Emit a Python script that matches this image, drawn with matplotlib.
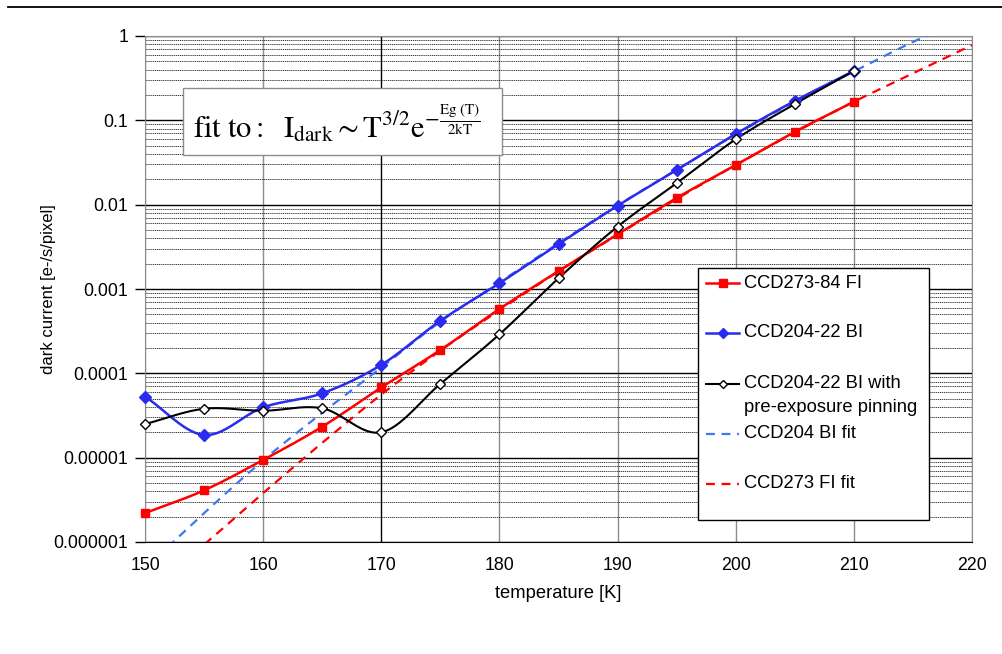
import numpy as np
import matplotlib
matplotlib.use('Agg')
import matplotlib.pyplot as plt
from matplotlib.lines import Line2D
from matplotlib.patches import Rectangle
from matplotlib.ticker import FixedLocator, FixedFormatter, LogLocator, NullFormatter

plt.rcParams['font.family'] = ['Liberation Sans', 'DejaVu Sans']
plt.rcParams['mathtext.fontset'] = 'stix'

# measured dark current vs temperature
temp = [150, 155, 160, 165, 170, 175, 180, 185, 190, 195, 200, 205, 210]
ccd273_fi = [2.2e-6, 4.1e-6, 9.4e-6, 2.33e-5, 6.8e-5, 1.89e-4, 5.8e-4, 1.63e-3, 4.45e-3, 0.012, 0.0295, 0.073, 0.166]
ccd204_bi = [5.3e-5, 1.86e-5, 3.95e-5, 5.8e-5, 1.26e-4, 4.2e-4, 1.17e-3, 3.41e-3, 9.7e-3, 0.0258, 0.069, 0.17, 0.385]
ccd204_pin = [2.5e-5, 3.8e-5, 3.6e-5, 3.85e-5, 2.0e-5, 7.5e-5, 2.9e-4, 1.34e-3, 5.5e-3, 0.018, 0.0596, 0.156, 0.385]

# fit curves
fit_temp = [150, 155, 160, 165, 170, 175, 180, 185, 190, 195, 200, 205, 210, 215, 220]
ccd204_fit = [4.9e-7, 2.2e-6, 9.3e-6, 3.4e-5, 1.17e-4, 4.1e-4, 1.2e-3, 3.5e-3, 9.8e-3, 0.026, 0.068, 0.166, 0.38, 0.85, 1.74]
ccd273_fit = [2.4e-7, 9.3e-7, 3.8e-6, 1.5e-5, 5.6e-5, 1.86e-4, 5.6e-4, 1.62e-3, 4.4e-3, 0.0117, 0.0295, 0.072, 0.166, 0.36, 0.78]

x_ticks = [150, 160, 170, 180, 190, 200, 210, 220]
y_ticks = [1e-6, 1e-5, 1e-4, 1e-3, 1e-2, 1e-1, 1]
y_tick_labels = ['0.000001', '0.00001', '0.0001', '0.001', '0.01', '0.1', '1']


def smooth(xs, ys, n=24):
    # Catmull-Rom curve through the points (x, log y), like Excel's smoothed line
    x = np.asarray(xs, float)
    y = np.log10(ys)
    px = np.r_[2 * x[0] - x[1], x, 2 * x[-1] - x[-2]]
    py = np.r_[2 * y[0] - y[1], y, 2 * y[-1] - y[-2]]
    t = np.linspace(0, 1, n)
    out_x, out_y = [], []
    for i in range(1, len(px) - 2):
        for p, out in ((px, out_x), (py, out_y)):
            p0, p1, p2, p3 = p[i - 1], p[i], p[i + 1], p[i + 2]
            out.extend(0.5 * (2 * p1 + (-p0 + p2) * t + (2 * p0 - 5 * p1 + 4 * p2 - p3) * t ** 2
                              + (-p0 + 3 * p1 - 3 * p2 + p3) * t ** 3))
    return np.array(out_x), 10 ** np.array(out_y)


W, H = 1002, 654
fig = plt.figure(figsize=(W / 100, H / 100), dpi=100)
ax = fig.add_axes([145 / W, 1 - 542 / H, 827 / W, 506 / H])
ax.set_yscale('log')
ax.set_xlim(150, 220)
ax.set_ylim(1e-6, 1)

# grid
for xv in x_ticks:
    ax.axvline(xv, color='black' if xv == 170 else '#8c8c8c', lw=1.0, zorder=1)
for yv in y_ticks:
    ax.axhline(yv, color='black', lw=1.0, zorder=1)
ax.yaxis.set_minor_locator(LogLocator(base=10, subs=np.arange(2, 10)))
ax.yaxis.set_minor_formatter(NullFormatter())
ax.grid(True, which='minor', axis='y', color='black', lw=0.55, linestyle=(0, (1.5, 1)), zorder=1)
ax.tick_params(axis='y', which='minor', length=0)

red = '#ff0000'
blue = '#2b2bf0'
light_blue = '#3c78f0'

x, y = smooth(fit_temp, ccd204_fit)
ax.plot(x, y, color=light_blue, lw=1.6, ls=(0, (4, 3)), zorder=3)
x, y = smooth(fit_temp, ccd273_fit)
ax.plot(x, y, color=red, lw=1.6, ls=(0, (4, 3)), zorder=3)

x, y = smooth(temp, ccd273_fi)
ax.plot(x, y, color=red, lw=1.8, zorder=4)
ax.plot(temp, ccd273_fi, ls='none', marker='s', ms=6, color=red, zorder=5, clip_on=False)

x, y = smooth(temp, ccd204_bi)
ax.plot(x, y, color=blue, lw=1.8, zorder=4)
ax.plot(temp, ccd204_bi, ls='none', marker='D', ms=6.5, color=blue, zorder=5, clip_on=False)

x, y = smooth(temp, ccd204_pin)
ax.plot(x, y, color='black', lw=1.5, zorder=4)
ax.plot(temp, ccd204_pin, ls='none', marker='D', ms=4.8, mfc='white', mec='black', mew=1.0,
        zorder=6, clip_on=False)

# axes styling
ax.xaxis.set_major_locator(FixedLocator(x_ticks))
ax.yaxis.set_major_locator(FixedLocator(y_ticks))
ax.yaxis.set_major_formatter(FixedFormatter(y_tick_labels))
ax.tick_params(axis='x', length=0, pad=11, labelsize=12.8)
ax.tick_params(axis='y', which='major', length=7, width=1, direction='out', pad=5, labelsize=12.8)
for side in ('left', 'top', 'right'):
    ax.spines[side].set_color('#8c8c8c')
ax.spines['bottom'].set_color('black')
ax.set_xlabel('temperature [K]', fontsize=13.2, labelpad=8)
ax.set_ylabel('dark current [e-/s/pixel]', fontsize=12)
ax.yaxis.set_label_coords(-0.108, 0.5)

# fit formula box
fig.add_artist(Rectangle((183 / W, 1 - 155 / H), (502 - 183) / W, (155 - 88) / H,
                         transform=fig.transFigure, facecolor='white', edgecolor='#8c8c8c', lw=1.0, zorder=7))
fig.text(193 / W, 1 - 124 / H,
         r'$\mathrm{fit\ to{:}\ \ I_{dark}} \sim \mathrm{T}^{3/2}\mathrm{e}^{-\frac{\mathrm{Eg\ (T)}}{\mathrm{2kT}}}$',
         fontsize=22, va='center', ha='left', zorder=8)

# legend drawn by hand to follow the original spacing
fig.add_artist(Rectangle((698 / W, 1 - 520 / H), (929 - 698) / W, (520 - 268) / H,
                         transform=fig.transFigure, facecolor='white', edgecolor='black', lw=1.0, zorder=7))
entries = [
    (283, dict(color=red, lw=1.8, marker='s', ms=5.5), ['CCD273-84 FI']),
    (333, dict(color=blue, lw=1.8, marker='D', ms=5.5), ['CCD204-22 BI']),
    (384, dict(color='black', lw=1.5, marker='D', ms=4, mfc='white', mec='black'),
     ['CCD204-22 BI with', 'pre-exposure pinning']),
    (434, dict(color=light_blue, lw=1.6, ls=(0, (4, 3))), ['CCD204 BI fit']),
    (484, dict(color=red, lw=1.6, ls=(0, (4, 3))), ['CCD273 FI fit']),
]
for yp, style, lines in entries:
    ln = Line2D([706 / W, 739 / W], [1 - yp / H, 1 - yp / H], transform=fig.transFigure,
                markevery=[1] if 'marker' in style else None, zorder=8, **style)
    if 'marker' in style:
        ln.set_data([706 / W, 722.5 / W, 739 / W], [1 - yp / H] * 3)
    fig.add_artist(ln)
    for k, txt in enumerate(lines):
        fig.text(744 / W, 1 - (yp + 23 * k) / H, txt, fontsize=13.2, va='center', ha='left', zorder=9)

# rule across the top of the page
fig.add_artist(Line2D([8 / W, 1.0], [1 - 7 / H, 1 - 7 / H], transform=fig.transFigure, color='black', lw=1.3))

fig.savefig('out.png', dpi=100)
